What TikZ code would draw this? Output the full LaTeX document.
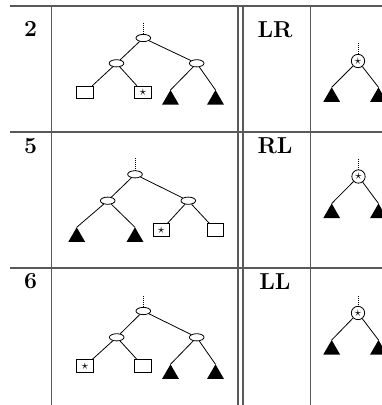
\documentclass[tikz,border=0pt]{standalone}
\usetikzlibrary{shapes.geometric}
\begin{document}
\begin{tikzpicture}[x=0.75pt,y=0.75pt,yscale=-1,xscale=1,
  rule/.style={draw=black!65, line width=0.8pt},
  inner/.style={draw, ellipse, minimum width=11pt, minimum height=5.4pt, inner sep=0pt, line width=0.6pt},
  leaf/.style={draw, rectangle, minimum width=12.5pt, minimum height=9.5pt, inner sep=0pt, line width=0.6pt, font=\normalsize},
  sub/.style={fill, regular polygon, regular polygon sides=3, minimum size=14.5pt, inner sep=0pt, outer sep=0pt, anchor=north},
  hot/.style={draw, circle, minimum size=10pt, inner sep=0pt, line width=0.6pt, font=\normalsize},
  link/.style={line width=0.6pt},
  up/.style={densely dotted, line width=0.5pt},
  lbl/.style={font=\LARGE\bfseries, inner sep=0pt}]
\useasboundingbox (0,0) rectangle (382,405);
\clip (0,0) rectangle (382,405);

%Table rules
\draw [rule] (10,6) -- (382,6) ;
\draw [rule] (10,132) -- (382,132) ;
\draw [rule] (10,268) -- (382,268) ;
\draw [rule] (51.5,6) -- (51.5,405) ;
\draw [rule] (238,6) -- (238,405) ;
\draw [rule] (243,6) -- (243,405) ;
\draw [rule] (310.5,6) -- (310.5,405) ;

% Text Node
\node [lbl] (r2) at (30.5,29) {2};
\node [lbl] (r5) at (30.5,146) {5};
\node [lbl] (r6) at (30.5,281) {6};
\node [lbl] (lr) at (275,29.5) {LR};
\node [lbl] (rl) at (275,146) {RL};
\node [lbl] (ll) at (275,282) {LL};

%Case 2: tree
\coordinate (a2top) at (143.3,23);
\node [inner] (a2) at (143.3,38) {};
\node [inner] (b2) at (116.5,63.3) {};
\node [inner] (c2) at (196.7,63.3) {};
\node [leaf] (s2) at (85,92.5) {};
\node [leaf] (x2) at (143,92.5) {$\star$};
\node [sub] (t2a) at (170.5,90) {};
\node [sub] (t2b) at (215.5,90) {};
\draw [up] (a2top) -- (a2) ;
\draw [link] (a2) -- (b2) ;
\draw [link] (a2) -- (c2) ;
\draw [link] (b2) -- (s2) ;
\draw [link] (b2) -- (x2) ;
\draw [link] (c2) -- (t2a.north) ;
\draw [link] (c2) -- (t2b.north) ;

%Case 5: tree
\coordinate (a5top) at (135,158);
\node [inner] (a5) at (135,174.3) {};
\node [inner] (b5) at (107.7,200.7) {};
\node [inner] (c5) at (188.3,200.7) {};
\node [sub] (t5a) at (76.7,227.3) {};
\node [sub] (t5b) at (135,227.3) {};
\node [leaf] (x5) at (161.3,230) {$\star$};
\node [leaf] (s5) at (215.5,230) {};
\draw [up] (a5top) -- (a5) ;
\draw [link] (a5) -- (b5) ;
\draw [link] (a5) -- (c5) ;
\draw [link] (b5) -- (t5a.north) ;
\draw [link] (b5) -- (t5b.north) ;
\draw [link] (c5) -- (x5) ;
\draw [link] (c5) -- (s5) ;

%Case 6: tree
\coordinate (a6top) at (143.3,296);
\node [inner] (a6) at (143.3,311) {};
\node [inner] (b6) at (116.7,337.3) {};
\node [inner] (c6) at (196.7,337.3) {};
\node [leaf] (x6) at (85,366) {$\star$};
\node [leaf] (s6) at (143,366) {};
\node [sub] (t6a) at (170.5,364.3) {};
\node [sub] (t6b) at (215.5,364.3) {};
\draw [up] (a6top) -- (a6) ;
\draw [link] (a6) -- (b6) ;
\draw [link] (a6) -- (c6) ;
\draw [link] (b6) -- (x6) ;
\draw [link] (b6) -- (s6) ;
\draw [link] (c6) -- (t6a.north) ;
\draw [link] (c6) -- (t6b.north) ;

%Rotated results (cut at the right edge)
\coordinate (lrtop) at (358,43);
\node [hot] (lrx) at (358,61) {$\star$};
\node [sub] (lra) at (331.7,87.3) {};
\node [sub] (lrb) at (378.5,87.3) {};
\draw [up] (lrtop) -- (lrx) ;
\draw [link] (lrx) -- (lra.north) ;
\draw [link] (lrx) -- (lrb.north) ;

\coordinate (rltop) at (358.5,159);
\node [hot] (rlx) at (358.5,176.5) {$\star$};
\node [sub] (rla) at (331.7,203.5) {};
\node [sub] (rlb) at (378.5,203.5) {};
\draw [up] (rltop) -- (rlx) ;
\draw [link] (rlx) -- (rla.north) ;
\draw [link] (rlx) -- (rlb.north) ;

\coordinate (lltop) at (358,295.5);
\node [hot] (llx) at (358,313) {$\star$};
\node [sub] (lla) at (331.7,340) {};
\node [sub] (llb) at (378.5,340) {};
\draw [up] (lltop) -- (llx) ;
\draw [link] (llx) -- (lla.north) ;
\draw [link] (llx) -- (llb.north) ;

\end{tikzpicture}
\end{document}
